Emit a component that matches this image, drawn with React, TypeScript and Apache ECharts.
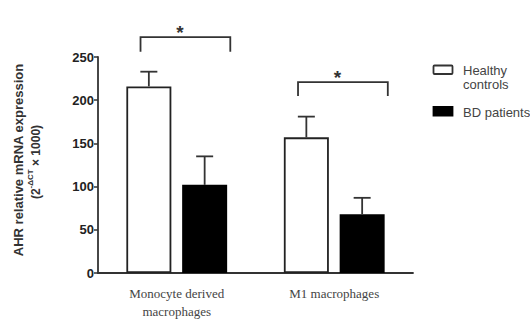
import React, { useEffect, useRef } from "react";
import * as echarts from "echarts";

const categories = ["Monocyte derived\nmacrophages", "M1 macrophages"];
const seriesNames = ["Healthy controls", "BD patients"];
const legendLabels = ["Healthy", "controls", "BD patients"];
const healthyMeans = [216, 157];
const healthyErrUp = [17, 24];
const bdMeans = [102, 68];
const bdErrUp = [33, 19];
const yMin = 0;
const yMax = 250;
const yStep = 50;
// significance brackets: category index, bracket top level, bracket foot level
const sigCategory = [0, 1];
const sigTop = [273, 221];
const sigFoot = [256, 205];
const sigMark = ["*", "*"];

const CAT_GAP = 0.36;
const BAR_GAP = 0.24;

function barCenterX(api: any, cat: number, s: number) {
  const band = api.size([1, 0])[0];
  const bw = (band * (1 - CAT_GAP)) / (2 + BAR_GAP);
  const gap = bw * BAR_GAP;
  const c = api.coord([cat, 0])[0];
  return c - (2 * bw + gap) / 2 + s * (bw + gap) + bw / 2;
}

export default function App() {
  const ref = useRef<HTMLDivElement>(null);
  useEffect(() => {
    if (!ref.current) return;
    const chart = echarts.init(ref.current, undefined, { renderer: "svg" });
    const errData: any[] = [];
    healthyMeans.forEach((m, i) => errData.push([i, m, healthyErrUp[i], 0]));
    bdMeans.forEach((m, i) => errData.push([i, m, bdErrUp[i], 1]));
    const sigData = sigCategory.map((c, i) => [c, sigTop[i], sigFoot[i], i]);

    const axisColor = "#333";
    const legendText = {
      fontFamily: "Liberation Sans",
      fontSize: 13,
      fill: "#444",
      verticalAlign: "middle",
    };
    chart.setOption({
      animation: false,
      backgroundColor: "#fff",
      grid: { left: 98, right: 117, top: 57, bottom: 45, containLabel: false },
      xAxis: {
        type: "category",
        data: categories,
        axisLine: { lineStyle: { color: axisColor, width: 1.8 } },
        axisTick: { alignWithLabel: true, length: 4, lineStyle: { color: axisColor, width: 1.5 } },
        axisLabel: {
          margin: 11,
          fontFamily: "Liberation Serif",
          fontSize: 13,
          lineHeight: 18,
          color: "#444",
        },
      },
      yAxis: {
        type: "value",
        min: yMin,
        max: yMax,
        interval: yStep,
        splitLine: { show: false },
        axisLine: { show: true, lineStyle: { color: axisColor, width: 1.8 } },
        axisTick: { show: true, length: 4, lineStyle: { color: axisColor, width: 1.5 } },
        axisLabel: {
          margin: 4,
          fontFamily: "Liberation Sans",
          fontWeight: "bold",
          fontSize: 13,
          color: "#222",
        },
      },
      series: [
        {
          name: seriesNames[0],
          type: "bar",
          data: healthyMeans,
          barCategoryGap: "36%",
          barGap: "24%",
          itemStyle: { color: "#fff", borderColor: "#222", borderWidth: 1.8 },
        },
        {
          name: seriesNames[1],
          type: "bar",
          data: bdMeans,
          barCategoryGap: "36%",
          barGap: "24%",
          itemStyle: { color: "#000", borderColor: "#000", borderWidth: 1.8 },
        },
        {
          type: "custom",
          data: errData,
          clip: false,
          z: 5,
          renderItem: (params: any, api: any) => {
            const cat = api.value(0);
            const mean = api.value(1);
            const err = api.value(2);
            const s = api.value(3);
            const x = barCenterX(api, cat, s);
            const yb = api.coord([cat, mean])[1];
            const yt = api.coord([cat, mean + err])[1];
            const style = { stroke: "#333", lineWidth: 1.8 };
            return {
              type: "group",
              children: [
                { type: "line", shape: { x1: x, y1: yb, x2: x, y2: yt }, style },
                { type: "line", shape: { x1: x - 8.5, y1: yt, x2: x + 8.5, y2: yt }, style },
              ],
            };
          },
        },
        {
          type: "custom",
          data: sigData,
          clip: false,
          z: 5,
          renderItem: (params: any, api: any) => {
            const cat = api.value(0);
            const top = api.value(1);
            const foot = api.value(2);
            const idx = api.value(3);
            const band = api.size([1, 0])[0];
            const c = api.coord([cat, 0])[0];
            const x1 = c - 0.23 * band;
            const x2 = c + 0.34 * band;
            const yt = api.coord([cat, top])[1];
            const yf = api.coord([cat, foot])[1];
            return {
              type: "group",
              children: [
                {
                  type: "polyline",
                  shape: { points: [[x1, yf], [x1, yt], [x2, yt], [x2, yf]] },
                  style: { stroke: "#333", lineWidth: 1.8, fill: "none" },
                },
                {
                  type: "text",
                  x: c + 0.02 * band,
                  y: yt - 5,
                  style: {
                    text: sigMark[idx],
                    fontFamily: "Liberation Sans",
                    fontWeight: "bold",
                    fontSize: 19,
                    fill: "#333",
                    align: "center",
                    verticalAlign: "middle",
                  },
                },
              ],
            };
          },
        },
      ],
      graphic: [
        {
          type: "text",
          x: 18,
          y: 160,
          rotation: Math.PI / 2,
          style: {
            text: "AHR relative mRNA expression",
            fontFamily: "Liberation Sans",
            fontWeight: "bold",
            fontSize: 13,
            fill: "#333",
            align: "center",
            verticalAlign: "middle",
          },
        },
        {
          type: "text",
          x: 34,
          y: 162,
          rotation: Math.PI / 2,
          style: {
            text: "{n|(2}{s|-ΔCT}{n| × 1000)}",
            align: "center",
            verticalAlign: "middle",
            rich: {
              n: { fontFamily: "Liberation Sans", fontWeight: "bold", fontSize: 12, fill: "#333", lineHeight: 16, verticalAlign: "bottom" },
              s: { fontFamily: "Liberation Sans", fontWeight: "bold", fontSize: 8, fill: "#333", lineHeight: 16, verticalAlign: "top" },
            },
          },
        },
        {
          type: "rect",
          shape: { x: 433.5, y: 65.5, width: 19, height: 8.5, r: 1 },
          style: { fill: "#fff", stroke: "#333", lineWidth: 1.8 },
        },
        { type: "text", x: 463, y: 70, style: { ...legendText, text: legendLabels[0] } },
        { type: "text", x: 463, y: 84, style: { ...legendText, text: legendLabels[1] } },
        {
          type: "rect",
          shape: { x: 433.5, y: 107, width: 19, height: 8.5 },
          style: { fill: "#000", stroke: "#000", lineWidth: 1.8 },
        },
        { type: "text", x: 463, y: 112, style: { ...legendText, text: legendLabels[2] } },
      ],
    });
    return () => chart.dispose();
  }, []);
  return <div ref={ref} style={{ width: 530, height: 320, position: "absolute", left: 0, top: 0 }} />;
}
